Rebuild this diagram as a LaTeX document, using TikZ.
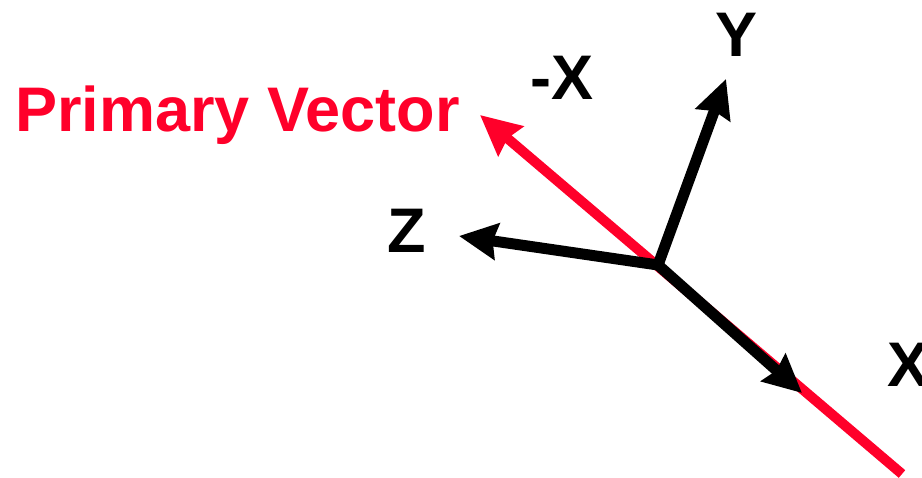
\documentclass[tikz,border=0pt]{standalone}
\usepackage{fontspec}
\setmainfont{Liberation Sans}
\usetikzlibrary{arrows.meta}
\definecolor{pvred}{RGB}{255,0,42}
\tikzset{
  lbl/.style={inner sep=0pt, anchor=base west, font=\bfseries\fontsize{63}{63}\selectfont},
  axis/.style={line width=11pt, draw=black, -{Stealth[length=38pt,width=36pt,inset=4pt]}},
  pv/.style={line width=10pt, draw=pvred, -{Stealth[length=40pt,width=38pt,inset=4pt]}}
}
\begin{document}
\begin{tikzpicture}[x=1pt,y=-1pt]
\useasboundingbox (0,0) rectangle (922,478);
\coordinate (O) at (658,265);
\coordinate (rb) at (902,474);
\coordinate (rt) at (480,115);
\coordinate (xt) at (802,393);
\coordinate (yt) at (726,79);
\coordinate (zt) at (459,236);
\draw[pv] (rb) -- (rt);
\draw[axis] (O) -- (xt);
\draw[axis] (O) -- (yt);
\draw[axis] (O) -- (zt);
\node[lbl, text=pvred] (pvl) at (15,132) {Primary Vector};
\node[lbl] (mxl) at (530,100) {-X};
\node[lbl] (yl) at (715,57) {Y};
\node[lbl] (zl) at (387,253) {Z};
\node[lbl] (xl) at (887,387) {X};
\end{tikzpicture}
\end{document}
